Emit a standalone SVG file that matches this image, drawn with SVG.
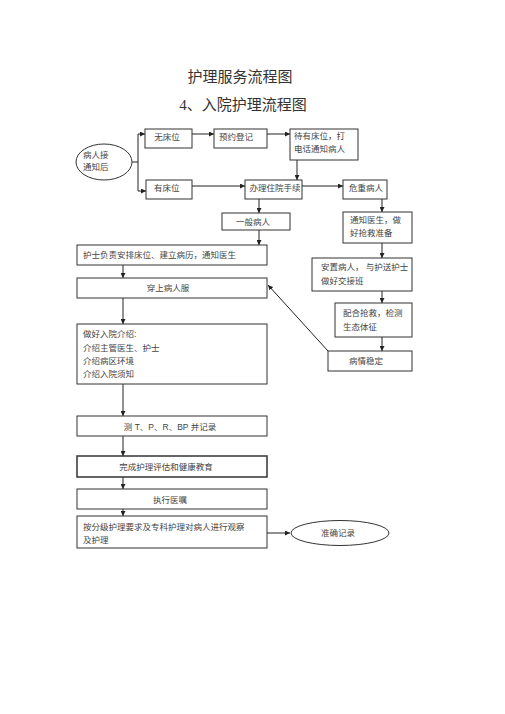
<svg xmlns="http://www.w3.org/2000/svg" width="505" height="714" viewBox="0 0 505 714">
<defs>
<style>
.box{fill:#fff;stroke:#333;stroke-width:1}
.t{font-family:"Liberation Sans","Noto Sans CJK SC",sans-serif;font-size:8.5px;fill:#444}
.c{text-anchor:middle}
.title{font-family:"Liberation Serif","Noto Sans CJK SC",serif;font-size:15px;fill:#333;text-anchor:middle}
.ln{fill:none;stroke:#222;stroke-width:1}
</style>
<marker id="ah" viewBox="0 0 10 10" refX="10" refY="5" markerWidth="5" markerHeight="5" orient="auto" markerUnits="userSpaceOnUse">
<path d="M0,0 L10,5 L0,10 z" fill="#222"/>
</marker>
</defs>
<rect width="505" height="714" fill="#fff"/>
<text class="title" x="240" y="82">护理服务流程图</text>
<text class="title" x="243" y="110">4、入院护理流程图</text>

<g id="connectors">
<path class="ln" d="M132,162 H138 V134 H145" marker-end="url(#ah)"/>
<path class="ln" d="M138,162 V191 H146" marker-end="url(#ah)"/>
<path class="ln" d="M192,134 H214" marker-end="url(#ah)"/>
<path class="ln" d="M267,134 H290" marker-end="url(#ah)"/>
<path class="ln" d="M297,160 V180" marker-end="url(#ah)"/>
<path class="ln" d="M192,186 H245" marker-end="url(#ah)"/>
<path class="ln" d="M302,186 H343" marker-end="url(#ah)"/>
<path class="ln" d="M259,199 V213" marker-end="url(#ah)"/>
<path class="ln" d="M382,199 V212" marker-end="url(#ah)"/>
<path class="ln" d="M259,230 V245" marker-end="url(#ah)"/>
<path class="ln" d="M382,243 V258" marker-end="url(#ah)"/>
<path class="ln" d="M382,291 V303" marker-end="url(#ah)"/>
<path class="ln" d="M382,337 V351" marker-end="url(#ah)"/>
<path class="ln" d="M328,351 L268,285" marker-end="url(#ah)"/>
<path class="ln" d="M123,265 V278" marker-end="url(#ah)"/>
<path class="ln" d="M123,298 V324" marker-end="url(#ah)"/>
<path class="ln" d="M123,384 V416" marker-end="url(#ah)"/>
<path class="ln" d="M123,436 V456" marker-end="url(#ah)"/>
<path class="ln" d="M123,477 V489" marker-end="url(#ah)"/>
<path class="ln" d="M123,509 V516" marker-end="url(#ah)"/>
<path class="ln" d="M267,533 H290" marker-end="url(#ah)"/>
</g>

<g id="n-start"><ellipse class="box" cx="104" cy="162" rx="28" ry="18"/>
<text class="t" x="83" y="158">病人接</text><text class="t" x="83" y="170">通知后</text></g>
<g id="n-nobed"><rect class="box" x="145" y="129" width="47" height="19"/><text class="t c" x="167" y="140">无床位</text></g>
<g id="n-reserve"><rect class="box" x="214" y="129" width="53" height="19"/><text class="t" x="219" y="140">预约登记</text></g>
<g id="n-wait"><rect class="box" x="290" y="129" width="68" height="31"/>
<text class="t" x="294" y="139">待有床位，打</text><text class="t" x="294" y="152">电话通知病人</text></g>
<g id="n-bed"><rect class="box" x="146" y="180" width="46" height="19"/><text class="t" x="154" y="191">有床位</text></g>
<g id="n-admit"><rect class="box" x="245" y="180" width="57" height="19"/><text class="t c" x="275" y="191">办理住院手续</text></g>
<g id="n-critical"><rect class="box" x="343" y="180" width="44" height="19"/><text class="t c" x="366" y="191">危重病人</text></g>
<g id="n-general"><rect class="box" x="222" y="213" width="68" height="17"/><text class="t c" x="253" y="225">一般病人</text></g>
<g id="n-notify"><rect class="box" x="343" y="212" width="69" height="31"/>
<text class="t" x="350" y="223">通知医生，做</text><text class="t" x="350" y="236">好抢救准备</text></g>
<g id="n-nurse"><rect class="box" x="77" y="245" width="190" height="20"/><text class="t" x="83" y="258">护士负责安排床位、建立病历，通知医生</text></g>
<g id="n-settle"><rect class="box" x="312" y="258" width="100" height="33"/>
<text class="t" x="321" y="270">安置病人， 与护送护士</text><text class="t" x="321" y="284">做好交接班</text></g>
<g id="n-gown"><rect class="box" x="77" y="278" width="190" height="20"/><text class="t c" x="168" y="291">穿上病人服</text></g>
<g id="n-rescue"><rect class="box" x="335" y="303" width="77" height="34"/>
<text class="t" x="343" y="316">配合抢救，检测</text><text class="t" x="343" y="330">生态体征</text></g>
<g id="n-stable"><rect class="box" x="328" y="351" width="84" height="20"/><text class="t c" x="366" y="364">病情稳定</text></g>
<g id="n-intro"><rect class="box" x="77" y="324" width="190" height="60"/>
<text class="t" x="83" y="337">做好入院介绍:</text>
<text class="t" x="83" y="351">介绍主管医生、护士</text>
<text class="t" x="83" y="364">介绍病区环境</text>
<text class="t" x="83" y="377">介绍入院须知</text></g>
<g id="n-vitals"><rect class="box" x="77" y="416" width="190" height="20"/><text class="t c" x="170" y="430">测 T、P、R、BP 并记录</text></g>
<g id="n-assess"><rect class="box" x="77" y="456" width="190" height="21" style="stroke-width:1.5"/><text class="t c" x="166" y="470">完成护理评估和健康教育</text></g>
<g id="n-orders"><rect class="box" x="77" y="489" width="190" height="20"/><text class="t c" x="170" y="503">执行医嘱</text></g>
<g id="n-observe"><rect class="box" x="77" y="516" width="190" height="32"/>
<text class="t" x="83" y="530">按分级护理要求及专科护理对病人进行观察</text><text class="t" x="83" y="543">及护理</text></g>
<g id="n-record"><ellipse class="box" cx="340" cy="533" rx="49" ry="12.5"/><text class="t c" x="338" y="536">准确记录</text></g>
</svg>
